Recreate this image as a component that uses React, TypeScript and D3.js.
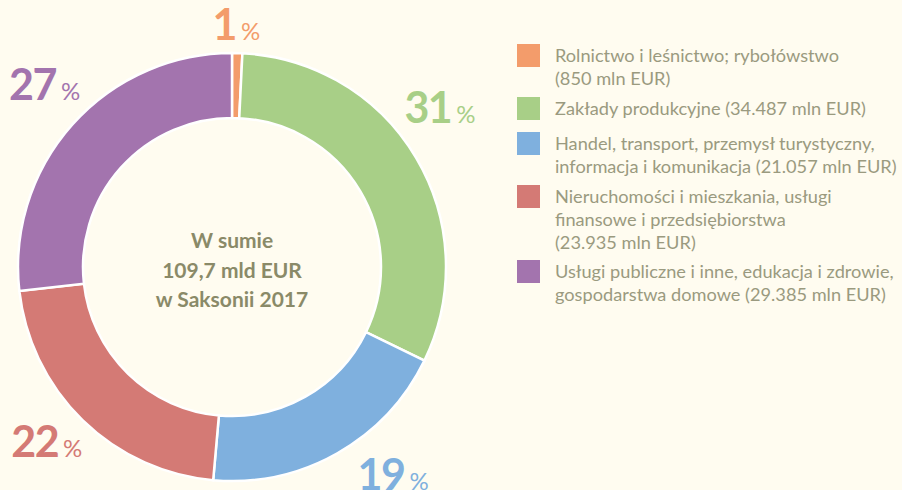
import React from "react";
import * as d3 from "d3";

const categories = [
  ["Rolnictwo i leśnictwo; rybołówstwo", "(850 mln EUR)"],
  ["Zakłady produkcyjne (34.487 mln EUR)"],
  ["Handel, transport, przemysł turystyczny,", "informacja i komunikacja (21.057 mln EUR)"],
  ["Nieruchomości i mieszkania, usługi", "finansowe i przedsiębiorstwa", "(23.935 mln EUR)"],
  ["Usługi publiczne i inne, edukacja i zdrowie,", "gospodarstwa domowe (29.385 mln EUR)"],
];
const values = [850, 34487, 21057, 23935, 29385];
const percentLabels = ["1", "31", "19", "22", "27"];
const centerLines = ["W sumie", "109,7 mld EUR", "w Saksonii 2017"];

const colors = ["#f39c6b", "#a8cf87", "#7fb0de", "#d47a75", "#a374ae"];
const labelNudge = [
  [-2, 31],
  [-14, -13],
  [34, -2],
  [-5, 5],
  [5, 5],
];

const W = 902;
const H = 490;
const cx = 232;
const cy = 267;
const R = 214;
const r = 149;

export default function App() {
  const pie = d3.pie<number>().sort(null).value((d) => d)(values);
  const arc = d3.arc<d3.PieArcDatum<number>>().innerRadius(r).outerRadius(R);
  const labelArc = d3.arc<d3.PieArcDatum<number>>().innerRadius(258).outerRadius(258);
  const textColor = "#8a8a68";
  const legendColor = "#9a9a7f";

  let ly = 44;
  const legendItems = categories.map((lines, i) => {
    const y0 = ly;
    ly += Math.max(lines.length * 22 + 9, 35);
    return { lines, y0, color: colors[i] };
  });

  return (
    <svg width={W} height={H} style={{ position: "absolute", left: 0, top: 0, background: "#fffcf0" }}>
      <rect width={W} height={H} fill="#fffcf0" />
      <g transform={`translate(${cx},${cy})`}>
        {pie.map((d, i) => (
          <path key={i} d={arc(d) || ""} fill={colors[i]} stroke="#ffffff" strokeWidth={2.5} />
        ))}
        {pie.map((d, i) => {
          const [x, y] = labelArc.centroid(d);
          return (
            <text
              key={"l" + i}
              x={x + labelNudge[i][0]}
              y={y + labelNudge[i][1]}
              textAnchor="middle"
              fill={colors[i]}
              fontFamily="Lato, 'Open Sans', sans-serif"
            >
              <tspan fontSize={43} fontWeight={700} letterSpacing={-1.5}>{percentLabels[i]}</tspan>
              <tspan fontSize={24} dx={5}>%</tspan>
            </text>
          );
        })}
        {centerLines.map((t, i) => (
          <text
            key={"c" + i}
            x={0}
            y={-19 + i * 29.5}
            textAnchor="middle"
            fontFamily="Lato, sans-serif"
            fontWeight={700}
            fontSize={21}
            fill={textColor}
          >
            {t}
          </text>
        ))}
      </g>
      <g>
        {legendItems.map((it, i) => (
          <g key={"lg" + i}>
            <rect x={517} y={it.y0} width={23} height={23} fill={it.color} />
            {it.lines.map((ln, j) => (
              <text
                key={j}
                x={555}
                y={it.y0 + 18 + j * 23}
                fontFamily="Lato, sans-serif"
                fontSize={18.2}
                fill={legendColor}
              >
                {ln}
              </text>
            ))}
          </g>
        ))}
      </g>
    </svg>
  );
}
